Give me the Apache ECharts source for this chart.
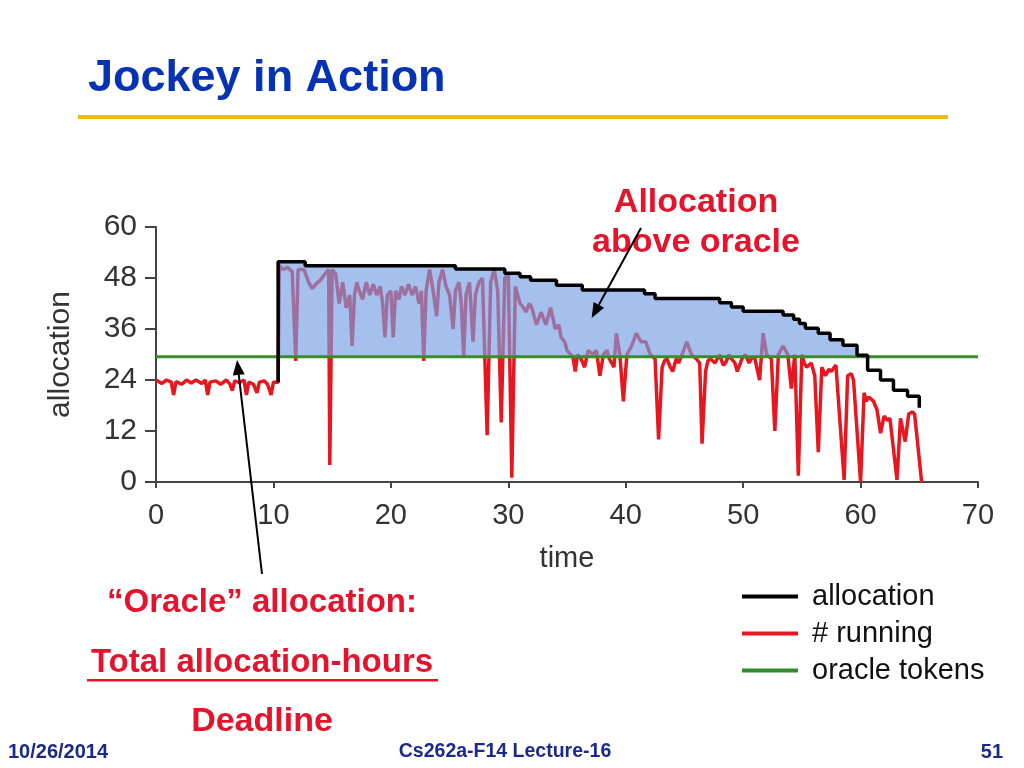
<!DOCTYPE html>
<html><head><meta charset="utf-8">
<script src="https://cdn.jsdelivr.net/npm/echarts@6/dist/echarts.min.js"></script>
<style>html,body{margin:0;padding:0;background:#fff;}#c{width:1024px;height:768px;}</style>
</head><body><div id="c"></div>
<script>
// ---- data ----
const runTime = [
  0,0.5,0.9,1.3,1.5,1.7,2.2,2.6,3,3.4, 3.9,4.2,4.4,4.6,5.1,5.5,6,6.3,6.5,6.7,
  7.1,7.5,7.7,7.9,8.3,8.6,8.8,9.2,9.5,9.8, 10,10.4,
  10.5,10.8,11.2,11.6,11.9,12.1,12.6,13,13.3,13.6, 14,14.4,14.7,14.8,15,15.3,15.6,15.9,16.2,16.5,
  16.7,16.9,17.1,17.3,17.6,17.9,18.2,18.5,18.8,19.1, 19.3,19.5,19.7,20,20.2,20.4,20.7,20.9,21.2,21.5,
  21.8,22.1,22.4,22.6,22.8,23,23.3,23.6,23.9,24.1, 24.4,24.7,25,25.3,25.5,25.8,26,26.2,26.4,26.7,
  27,27.2,27.5,27.8,28.2,28.5,28.8,29.1,29.4,29.7, 30,30.3,30.6,
  31,31.3,31.5,31.8,32,32.4,32.8,33.2,33.6,34, 34.3,34.5,34.8,35,35.3,35.5,35.7,35.9,36.2,36.5,
  36.8,37.2,37.5,37.8,38.1,38.4,38.6,39,39.2,39.5, 39.8,40.1,40.5,40.9,41.3,41.7,42.1,42.5,42.8,43.1,
  43.3,43.5,43.8,44,44.3,44.5,44.8,45.2,45.6,46, 46.3,46.5,46.8,47,47.2,47.6,48,48.3,48.5,48.8,
  49,49.3,49.5,49.9,50.2,50.5,50.8,51,51.4,51.7, 52,52.4,52.7,53,53.4,53.8,54.1,54.4,54.7,55,
  55.2,55.4,55.8,56.1,56.4,56.7,57,57.3,57.5,57.9, 58.6,58.9,59.2,59.4,60,60.3,60.5,60.7,61.1,61.4,
  61.7,62,62.3,62.5,63.1,63.4,63.8,64.1,64.4,64.6, 65.2];
const runCount = [
  24,23.2,24,23.5,20.5,23.6,23,24,23.3,24, 23.2,24,20.5,23.5,23.8,23,24,23,21.5,23.8,
  23.4,24,20.5,23.5,23,21,23.5,23.8,23,20.5, 23.5,23.5,
  51,50,50.5,49.5,28.5,50,50,47,45.5,46.5, 47.5,49,50,4,50,49,42,47,41,44,
  32,44,47,45,43,47,44,46.5,44,46, 42,34,44,45,34,45,43,46,44,46.5,
  44,46,42,45,28.5,45,50,45,39,47, 50,46,44,36,45,47,42,29.5,44,47,
  33,44,47,48,11,47,50,45,14,48, 49,1,46,
  42,41,40,42,41,37,40,37,41,36, 37,34,33,31,30,29.5,26,30,29,27,
  31,30,31,25,30,31,29,27,35,30, 19,30,32,35,33,33,30,29,10,27,
  28.5,29,27,26,29,28,30,33,30,29, 28,9,26,28.5,29,28,30,27.5,28,30,
  29,28,26,29,30,28,29.5,29,24,35, 30,29,12,30,32,30,22,30,1.5,30,
  28,27,28,25,7,27,25,26.5,26,27.5, 0.5,25,25.5,24,0,21,19,20,19,17,
  11.5,15.5,14.5,15,0.5,15,9.5,16,16.5,16, 0];
const allocTime = [10.4,10.4,12.7,25.5,29.7,31,31.9,34.1,36.3,41.6,42.5,48,49,50,53.4,54.3,54.8,55.3,56.4,57.4,58.5,59.7,60.6,61.7,62.8,64,65];
const allocValue = [23.5,51.8,50.9,50.1,49.1,48.3,47.5,46.3,45.2,44.3,43.2,42.2,41.2,40.2,39.3,38.3,37.3,36.2,35,33.5,32.2,29.8,26.3,24,21.6,20.2,17.5];
const oracleTime = [0, 70];
const oracleValue = [29.5, 29.5];
const legendNames = ['allocation', '# running', 'oracle tokens'];
const ORACLE = 29.5;

// ---- chart ----
const chart = echarts.init(document.getElementById('c'));
const zip = (a, b) => a.map((v, i) => [v, b[i]]);
const FONT = '"Liberation Sans", Arial, Helvetica, sans-serif';
const RED = '#e3142c';
const AXIS = '#444';

function renderFill(params, api) {
  if (params.dataIndex !== 0) return null;
  const polys = [];
  let cur = null;
  for (let i = 0; i < allocTime.length - 1; i++) {
    const v = allocValue[i];
    if (v > ORACLE) {
      if (!cur) cur = { start: allocTime[i], pts: [] };
      cur.pts.push(api.coord([allocTime[i], v]), api.coord([allocTime[i + 1], v]));
      cur.end = allocTime[i + 1];
    } else if (cur) {
      polys.push(cur); cur = null;
    }
  }
  if (cur) polys.push(cur);
  return {
    type: 'group',
    children: polys.map(p => ({
      type: 'polygon',
      shape: { points: p.pts.concat([api.coord([p.end, ORACLE]), api.coord([p.start, ORACLE])]) },
      style: { fill: 'rgba(118,160,226,0.66)' }
    }))
  };
}

const option = {
  animation: false,
  grid: { left: 156, right: 46, top: 227, bottom: 286 },
  xAxis: {
    type: 'value', min: 0, max: 70, interval: 10,
    name: 'time', nameLocation: 'middle', nameGap: 62,
    nameTextStyle: { fontSize: 29, color: '#333', fontFamily: FONT },
    axisLine: { lineStyle: { color: AXIS, width: 2 } },
    axisTick: { length: 6, lineStyle: { color: AXIS, width: 2 } },
    axisLabel: { margin: 19, fontSize: 29, color: '#333', fontFamily: FONT },
    splitLine: { show: false }
  },
  yAxis: {
    type: 'value', min: 0, max: 60, interval: 12,
    name: 'allocation', nameLocation: 'middle', nameGap: 80,
    nameTextStyle: { fontSize: 30, color: '#333', fontFamily: FONT },
    axisLine: { show: true, lineStyle: { color: AXIS, width: 2 } },
    axisTick: { show: true, length: 11, lineStyle: { color: AXIS, width: 2 } },
    axisLabel: { margin: 19, fontSize: 30, color: '#333', fontFamily: FONT },
    splitLine: { show: false }
  },
  legend: {
    data: legendNames, orient: 'vertical', left: 737, top: 577,
    icon: 'rect', itemWidth: 56, itemHeight: 4, itemGap: 8, selectedMode: false,
    textStyle: { fontSize: 29, color: '#111', fontFamily: FONT, padding: [0, 0, 0, 9] }
  },
  series: [
    { name: '# running', type: 'line', data: zip(runTime, runCount), symbol: 'none',
      lineStyle: { color: '#e8161e', width: 3.5 }, itemStyle: { color: '#e8161e' }, z: 1 },
    { name: 'fill', type: 'custom', renderItem: renderFill, data: zip(allocTime, allocValue),
      encode: { x: 0, y: 1 }, z: 2, silent: true, clip: true },
    { name: 'oracle tokens', type: 'line', data: zip(oracleTime, oracleValue), symbol: 'none',
      lineStyle: { color: '#3a8c2a', width: 3 }, itemStyle: { color: '#2e8b2e' }, z: 3 },
    { name: 'allocation', type: 'line', step: 'end', data: zip(allocTime, allocValue), symbol: 'none',
      lineStyle: { color: '#000', width: 3.5 }, itemStyle: { color: '#000' }, z: 4 }
  ]
};
chart.setOption(option);

// ---- annotations ----
function arrow(tail, tip) {
  const dx = tip[0] - tail[0], dy = tip[1] - tail[1];
  const len = Math.sqrt(dx * dx + dy * dy), ux = dx / len, uy = dy / len;
  const hl = 15, hw = 6;
  const bx = tip[0] - ux * hl, by = tip[1] - uy * hl;
  return [
    { type: 'line', shape: { x1: tail[0], y1: tail[1], x2: bx, y2: by }, style: { stroke: '#000', lineWidth: 2 }, z: 100 },
    { type: 'polygon', shape: { points: [tip, [bx - uy * hw, by + ux * hw], [bx + uy * hw, by - ux * hw]] }, style: { fill: '#000' }, z: 100 }
  ];
}
const tip1 = chart.convertToPixel({ gridIndex: 0 }, [37.1, 38.6]);
const tip2 = chart.convertToPixel({ gridIndex: 0 }, [6.9, 28.7]);
function txt(x, y, s, size, color, weight, align) {
  return { type: 'text', x: x, y: y, z: 100,
    style: { text: s, fill: color, font: (weight || 'bold') + ' ' + size + 'px ' + FONT, align: align || 'center', verticalAlign: 'middle' } };
}
const FOOT = '#1b2a8a';
chart.setOption({
  graphic: [
    txt(88, 79, 'Jockey in Action', 45, '#0632b4', 'bold', 'left'),
    { type: 'rect', shape: { x: 78, y: 115, width: 870, height: 4 }, style: { fill: '#f2b90f' } },
    txt(696, 203, 'Allocation', 34, RED),
    txt(696, 243, 'above oracle', 34, RED),
    txt(262, 603, '\u201COracle\u201D allocation:', 33, RED),
    txt(262, 663, 'Total allocation-hours', 33, RED),
    { type: 'rect', shape: { x: 87, y: 679, width: 351, height: 2.5 }, style: { fill: RED } },
    txt(262, 722, 'Deadline', 34, RED),
    txt(8, 752, '10/26/2014', 20, FOOT, 'bold', 'left'),
    txt(505, 752, 'Cs262a-F14 Lecture-16', 19.5, FOOT),
    txt(1003, 752, '51', 20, FOOT, 'bold', 'right')
  ].concat(arrow([641, 228], tip1), arrow([262, 574], tip2))
});
</script></body></html>
